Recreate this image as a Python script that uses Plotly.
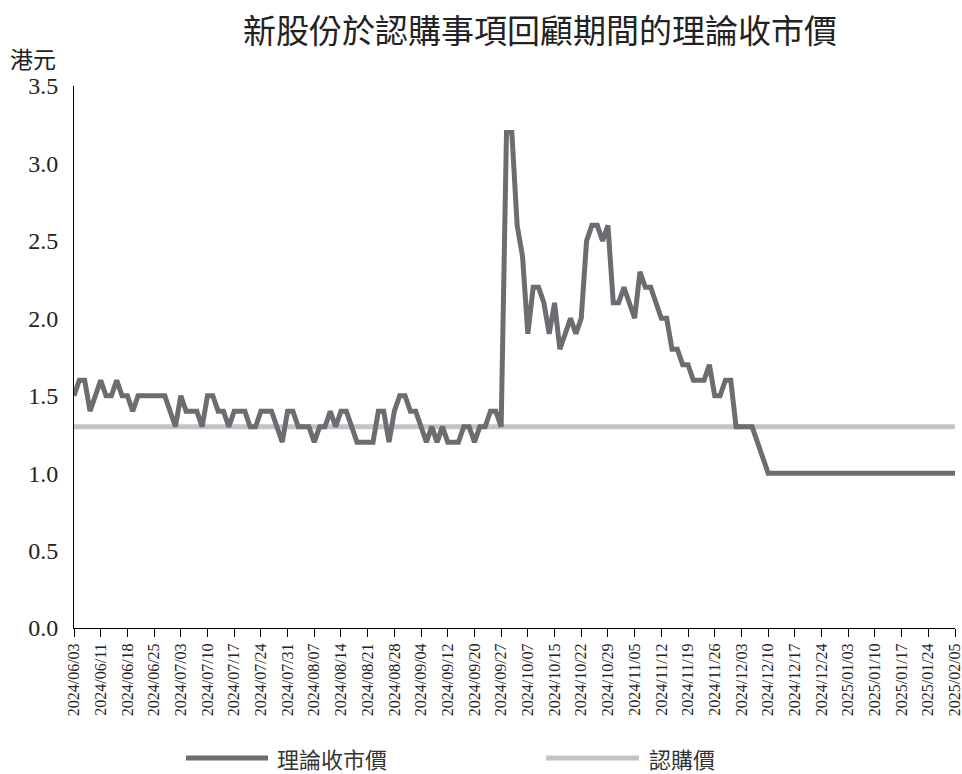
import pandas as pd
import plotly.graph_objects as go

# Hong Kong market closures inside the review window
hk_closures = [
    "2024-06-10", "2024-07-01", "2024-09-06", "2024-09-18", "2024-10-01",
    "2024-10-11", "2024-12-25", "2024-12-26", "2025-01-01", "2025-01-29",
    "2025-01-30", "2025-01-31",
]
trading_days = [d for d in pd.bdate_range("2024-06-03", "2025-02-05")
                if d.strftime("%Y-%m-%d") not in hk_closures]
dates = [d.strftime("%Y/%m/%d") for d in trading_days]

# Theoretical closing price of the new shares (HK$), one value per trading day
theoretical_close = [
    1.5, 1.6, 1.6, 1.4, 1.5, 1.6, 1.5, 1.5, 1.6, 1.5,
    1.5, 1.4, 1.5, 1.5, 1.5, 1.5, 1.5, 1.5, 1.4, 1.3,
    1.5, 1.4, 1.4, 1.4, 1.3, 1.5, 1.5, 1.4, 1.4, 1.3,
    1.4, 1.4, 1.4, 1.3, 1.3, 1.4, 1.4, 1.4, 1.3, 1.2,
    1.4, 1.4, 1.3, 1.3, 1.3, 1.2, 1.3, 1.3, 1.4, 1.3,
    1.4, 1.4, 1.3, 1.2, 1.2, 1.2, 1.2, 1.4, 1.4, 1.2,
    1.4, 1.5, 1.5, 1.4, 1.4, 1.3, 1.2, 1.3, 1.2, 1.3,
    1.2, 1.2, 1.2, 1.3, 1.3, 1.2, 1.3, 1.3, 1.4, 1.4,
    1.3, 3.2, 3.2, 2.6, 2.4, 1.9, 2.2, 2.2, 2.1, 1.9,
    2.1, 1.8, 1.9, 2.0, 1.9, 2.0, 2.5, 2.6, 2.6, 2.5,
    2.6, 2.1, 2.1, 2.2, 2.1, 2.0, 2.3, 2.2, 2.2, 2.1,
    2.0, 2.0, 1.8, 1.8, 1.7, 1.7, 1.6, 1.6, 1.6, 1.7,
    1.5, 1.5, 1.6, 1.6, 1.3, 1.3, 1.3, 1.3, 1.2, 1.1,
    1.0, 1.0, 1.0, 1.0, 1.0, 1.0, 1.0, 1.0, 1.0, 1.0,
    1.0, 1.0, 1.0, 1.0, 1.0, 1.0, 1.0, 1.0, 1.0, 1.0,
    1.0, 1.0, 1.0, 1.0, 1.0, 1.0, 1.0, 1.0, 1.0, 1.0,
    1.0, 1.0, 1.0, 1.0, 1.0, 1.0,
]
subscription_price = 1.3

tick_dates = dates[::5]
y_ticks = [0.0, 0.5, 1.0, 1.5, 2.0, 2.5, 3.0, 3.5]

title_text = "新股份於認購事項回顧期間的理論收市價"
unit_text = "港元"
series_names = ["理論收市價", "認購價"]
series_colors = ["#6b6d71", "#c4c3c8"]

W, H = 962, 774
ML, MR, MT, MB = 74, 7, 86, 146
PW, PH = W - ML - MR, H - MT - MB


def px_x(px):
    return (px - ML) / PW


def px_y(py):
    return (H - MB - py) / PH


SERIF = "Liberation Serif, Times New Roman, serif"
CJK = "Noto Sans CJK TC, Noto Sans CJK SC, sans-serif"

fig = go.Figure()
fig.add_trace(go.Scatter(
    x=dates, y=[subscription_price] * len(dates), mode="lines",
    line=dict(color=series_colors[1], width=5), name=series_names[1],
    showlegend=False,
))
fig.add_trace(go.Scatter(
    x=dates, y=theoretical_close, mode="lines",
    line=dict(color=series_colors[0], width=5), name=series_names[0],
    showlegend=False,
))

# Legend drawn below the axis: a long line sample followed by its label
legend_y = 758
legend_items = [
    (186, 268, 275, series_names[0], series_colors[0]),
    (546, 639, 647, series_names[1], series_colors[1]),
]
shapes = []
annotations = []
for x0, x1, xt, name, color in legend_items:
    shapes.append(dict(type="line", xref="paper", yref="paper",
                       x0=px_x(x0), x1=px_x(x1), y0=px_y(legend_y), y1=px_y(legend_y),
                       line=dict(color=color, width=5)))
    annotations.append(dict(text=name, xref="paper", yref="paper",
                            x=px_x(xt), y=px_y(legend_y), xanchor="left", yanchor="middle",
                            showarrow=False, font=dict(family=CJK, size=22, color="#333333")))

annotations.append(dict(text=title_text, xref="paper", yref="paper",
                        x=px_x(540), y=px_y(29), xanchor="center", yanchor="middle",
                        showarrow=False, font=dict(family=CJK, size=33, color="#222222")))
annotations.append(dict(text=unit_text, xref="paper", yref="paper",
                        x=px_x(8), y=px_y(58), xanchor="left", yanchor="middle",
                        showarrow=False, font=dict(family=CJK, size=23, color="#222222")))

fig.update_layout(
    width=W, height=H,
    margin=dict(l=ML, r=MR, t=MT, b=MB, autoexpand=False),
    paper_bgcolor="white", plot_bgcolor="white",
    shapes=shapes, annotations=annotations,
    showlegend=False,
    xaxis=dict(
        type="category", range=[0, len(dates) - 1],
        tickmode="array", tickvals=tick_dates, ticktext=tick_dates,
        tickangle=-90, ticks="outside", ticklen=8, tickcolor="#000000",
        showline=True, linecolor="#000000", linewidth=1,
        showgrid=False, zeroline=False,
        tickfont=dict(family=SERIF, size=16, color="#222222"),
    ),
    yaxis=dict(
        range=[0, 3.5], tickmode="array", tickvals=y_ticks,
        tickformat=".1f", ticks="", showline=True, linecolor="#000000",
        linewidth=1, showgrid=False, zeroline=False, ticklabelstandoff=10,
        tickfont=dict(family=SERIF, size=24, color="#222222"),
    ),
)

fig.write_html("out.html")
